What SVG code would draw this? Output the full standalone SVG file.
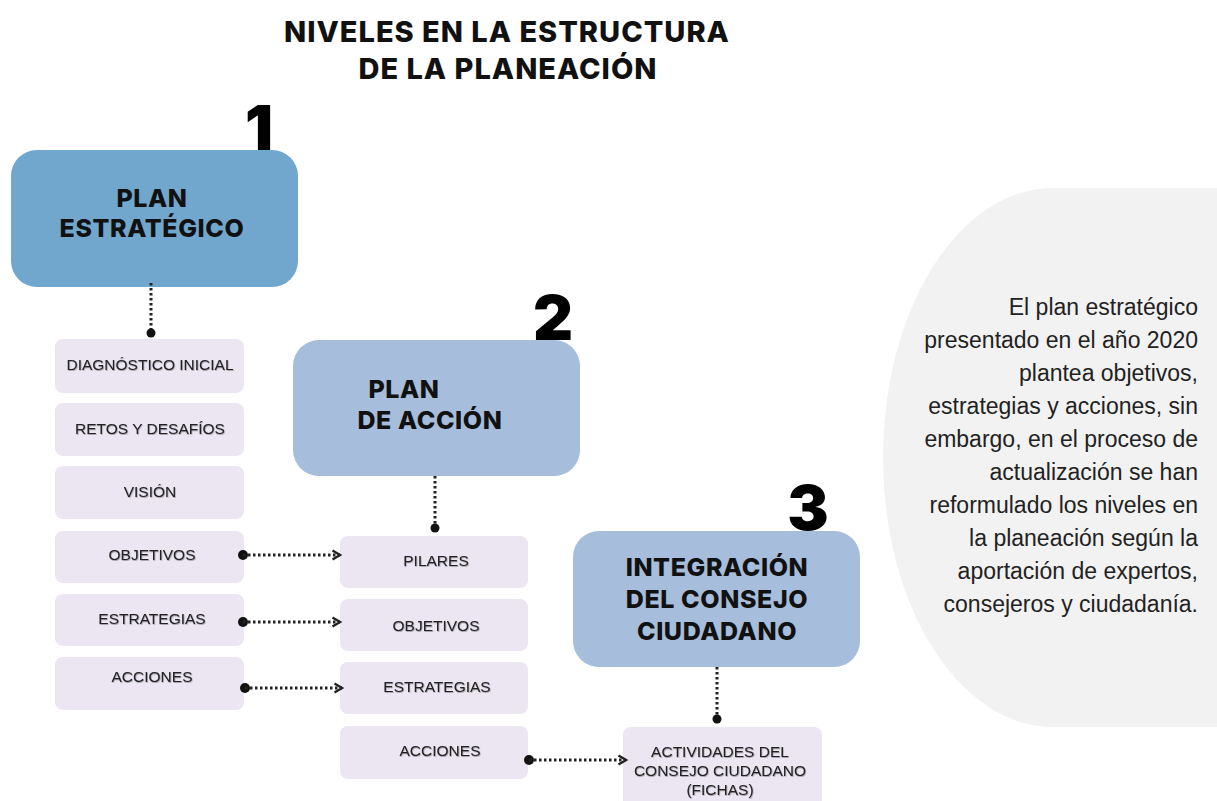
<svg xmlns="http://www.w3.org/2000/svg" width="1217" height="801" viewBox="0 0 1217 801">
<defs>
<style>
.title{font-family:Inter,"Noto Sans",sans-serif;font-weight:800;font-size:29px;letter-spacing:1px;fill:#111;text-anchor:middle}
.big{font-family:Inter,"Noto Sans",sans-serif;font-weight:800;font-size:25px;letter-spacing:0.6px;fill:#111;text-anchor:middle}
.num{font-family:Inter,"Noto Sans",sans-serif;font-weight:900;font-size:62px;fill:#000;text-anchor:middle}
.sm{font-family:"Liberation Sans",Arial,sans-serif;font-size:15.5px;fill:#222;text-anchor:middle;filter:url(#sh)}
.para{font-family:"Liberation Sans",Arial,sans-serif;font-size:23px;fill:#222;text-anchor:end}
.item{fill:#ebe6f2}
.b1{fill:#71a7cd}
.b2{fill:#a7bddc}
.dash{fill:none;stroke:#222;stroke-width:3;stroke-dasharray:2.5 2.5}
.dot{fill:#111}
</style>
<filter id="sh" x="-5%" y="-20%" width="110%" height="140%">
<feDropShadow dx="0.6" dy="0.8" stdDeviation="0.6" flood-color="#000" flood-opacity="0.35"/>
</filter>
<marker id="arr" viewBox="0 0 12 12" refX="9" refY="6" markerWidth="12" markerHeight="12" markerUnits="userSpaceOnUse" orient="auto">
<path d="M1.5,1.5 L9,6 L1.5,10.5" fill="none" stroke="#222" stroke-width="2.4"/>
</marker>
</defs>
<rect width="1217" height="801" fill="#fff"/>
<path d="M1217,188 H1053 A170,269.5 0 0 0 1053,727 H1217 Z" fill="#f2f2f2"/>
<g id="title">
<text class="title" x="507" y="42">NIVELES EN LA ESTRUCTURA</text>
<text class="title" x="508" y="79">DE LA PLANEACIÓN</text>
</g>
<g id="plan-estrategico">
<text class="num" x="259" y="150">1</text>
<rect class="b1" x="11" y="150" width="287" height="137" rx="26"/>
<text class="big" x="152" y="207">PLAN</text>
<text class="big" x="152" y="237">ESTRATÉGICO</text>
</g>
<g id="plan-accion">
<text class="num" x="553" y="340">2</text>
<rect class="b2" x="293" y="340" width="287" height="136" rx="26"/>
<text class="big" x="404" y="398">PLAN</text>
<text class="big" x="430" y="429">DE ACCIÓN</text>
</g>
<g id="integracion">
<text class="num" x="808" y="530">3</text>
<rect class="b2" x="573" y="531" width="287" height="136" rx="26"/>
<text class="big" x="717" y="576">INTEGRACIÓN</text>
<text class="big" x="717" y="608">DEL CONSEJO</text>
<text class="big" x="717" y="640">CIUDADANO</text>
</g>
<g id="col1">
<g id="diagnostico"><rect class="item" x="55" y="339" width="189" height="54" rx="8"/><text class="sm" x="150" y="370">DIAGNÓSTICO INICIAL</text></g>
<g id="retos"><rect class="item" x="55" y="403" width="189" height="53" rx="8"/><text class="sm" x="150" y="434">RETOS Y DESAFÍOS</text></g>
<g id="vision"><rect class="item" x="55" y="466" width="189" height="53" rx="8"/><text class="sm" x="150" y="497">VISIÓN</text></g>
<g id="objetivos1"><rect class="item" x="55" y="531" width="189" height="52" rx="8"/><text class="sm" x="152" y="560">OBJETIVOS</text></g>
<g id="estrategias1"><rect class="item" x="55" y="594" width="189" height="52" rx="8"/><text class="sm" x="152" y="624">ESTRATEGIAS</text></g>
<g id="acciones1"><rect class="item" x="55" y="657" width="189" height="53" rx="8"/><text class="sm" x="152" y="682">ACCIONES</text></g>
</g>
<g id="col2">
<g id="pilares"><rect class="item" x="340" y="536" width="188" height="52" rx="8"/><text class="sm" x="436" y="566">PILARES</text></g>
<g id="objetivos2"><rect class="item" x="340" y="599" width="188" height="52" rx="8"/><text class="sm" x="436" y="631">OBJETIVOS</text></g>
<g id="estrategias2"><rect class="item" x="340" y="662" width="188" height="52" rx="8"/><text class="sm" x="437" y="692">ESTRATEGIAS</text></g>
<g id="acciones2"><rect class="item" x="340" y="726" width="188" height="53" rx="8"/><text class="sm" x="440" y="756">ACCIONES</text></g>
</g>
<g id="actividades">
<rect class="item" x="623" y="727" width="199" height="90" rx="8"/>
<text class="sm" x="720" y="757">ACTIVIDADES DEL</text>
<text class="sm" x="720" y="776">CONSEJO CIUDADANO</text>
<text class="sm" x="720" y="795">(FICHAS)</text>
</g>
<g id="connectors">
<path class="dash" d="M151,283 V330"/><circle class="dot" cx="151" cy="333" r="4.5"/>
<path class="dash" d="M435,476 V525"/><circle class="dot" cx="435" cy="528" r="4.5"/>
<path class="dash" d="M717,667 V716"/><circle class="dot" cx="717" cy="719" r="4.5"/>
<circle class="dot" cx="243" cy="555" r="5"/><path class="dash" d="M243,555 H340" marker-end="url(#arr)"/>
<circle class="dot" cx="243" cy="622" r="5"/><path class="dash" d="M243,622 H340" marker-end="url(#arr)"/>
<circle class="dot" cx="245" cy="688" r="5"/><path class="dash" d="M245,688 H342" marker-end="url(#arr)"/>
<circle class="dot" cx="529" cy="760" r="5"/><path class="dash" d="M529,760 H626" marker-end="url(#arr)"/>
</g>
<g id="note">
<text class="para" x="1198" y="315">El plan estratégico</text>
<text class="para" x="1198" y="348">presentado en el año 2020</text>
<text class="para" x="1198" y="381">plantea objetivos,</text>
<text class="para" x="1198" y="414">estrategias y acciones, sin</text>
<text class="para" x="1198" y="447">embargo, en el proceso de</text>
<text class="para" x="1198" y="480">actualización se han</text>
<text class="para" x="1198" y="513">reformulado los niveles en</text>
<text class="para" x="1198" y="546">la planeación según la</text>
<text class="para" x="1198" y="579">aportación de expertos,</text>
<text class="para" x="1198" y="612">consejeros y ciudadanía.</text>
</g>
</svg>
